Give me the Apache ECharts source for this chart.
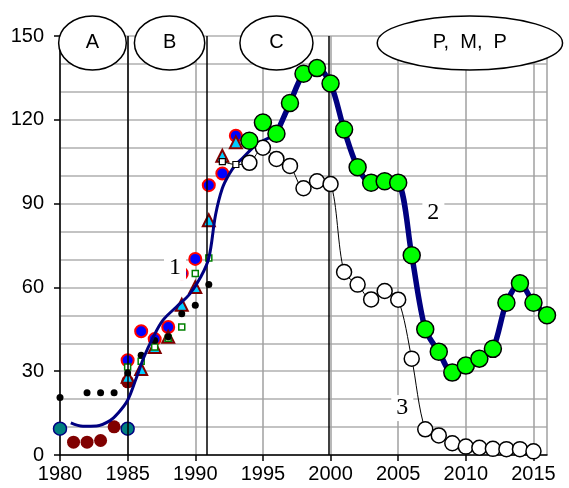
<!DOCTYPE html>
<html><head><meta charset="utf-8">
<script src="https://cdn.jsdelivr.net/npm/echarts@6/dist/echarts.min.js"></script>
<style>html,body{margin:0;padding:0;background:#fff}#c{width:569px;height:488px}</style>
</head><body><div id="c"></div>
<script>
// ---- data ----
const xTickLabels = [1980,1985,1990,1995,2000,2005,2010,2015];
const yTickLabels = [0,30,60,90,120,150];

// series 2: green circles (thick navy line)
const s2Years  = [1994,1995,1996,1997,1998,1999,2000,2001,2002,2003,2004,2005,2006,2007,2008,2009,2010,2011,2012,2013,2014,2015,2016];
const s2Values = [112.5,119,115,126,136.5,138.5,133,116.5,103,97.5,98,97.5,71.5,45,37,29.5,32,34.5,38,54.5,61.5,54.5,50];
const s2LineStartYear = 1996;

// series 3: white circles (thin black line), first two years as small squares
const s3Years  = [1992,1993,1994,1995,1996,1997,1998,1999,2000,2001,2002,2003,2004,2005,2006,2007,2008,2009,2010,2011,2012,2013,2014,2015];
const s3Values = [105,104,104.6,110,106,103.5,95.5,98,97,65.5,61,55.7,58.7,55.6,34.5,9.2,7,4.2,3,2.6,2.2,2.1,2.1,1.3];
const s3SquareYears = [1992,1993];

// curve 1 (smooth fit, thin navy)
const c1Years  = [1980.8,1981.7,1982.7,1983.7,1984.3,1985,1985.6,1986.2,1986.9,1987.6,1988.6,1989.6,1990.4,1991,1991.5,1992,1992.5,1993,1993.5,1994.5,1995.65];
const c1Values = [11.5,10.3,10.4,12.3,15,19.6,27,35,42.3,48.2,53,57.7,63.7,70.5,86,95.5,100.5,104,106.3,111,114];

// scatter groups
const blackDotYears  = [1980,1982,1983,1984,1985,1986,1987,1988,1989,1990,1991];
const blackDotValues = [20.6,22.3,22.3,22.3,29.4,35.7,41,42.3,50.6,53.6,61];

const darkRedYears  = [1981,1982,1983,1984,1985];
const darkRedValues = [4.6,4.6,5.2,10.1,26.2];

const tealYears  = [1980,1985];
const tealValues = [9.4,9.4];

const blueYears  = [1985,1986,1987,1988,1989,1990,1991,1992,1993];
const blueValues = [33.9,44.3,41.5,45.8,65,70.2,96.6,100.8,114.3];

const triYears  = [1985,1986,1987,1988,1989,1990,1991,1992,1993];
const triValues = [28,30.8,38.7,42.3,53.8,60.1,84,107.1,112];

const sqYears  = [1985,1986,1987,1988,1989,1990,1991];
const sqValues = [31.5,33.6,38.7,41.8,45.8,65,70.5];

// vertical period dividers
const dividerYears = [1985,1990.85,1999.9];

// period ellipses: label, centre year, half-width in years
const eraLabels  = ['A','B','C','P,  M,  P'];
const eraCenters = [1982.4,1988.1,1996.0,2010.3];
const eraHalfW   = [2.5,2.6,2.7,6.85];
const eraValue   = 147.5;

// curve number labels
const numLabels = ['1','2','3'];
const numYears  = [1988.5,2007.6,2005.3];
const numValues = [67,86.8,16.8];

// ---- build ----
const zip = (xs, ys) => xs.map((x, i) => [x, ys[i]]);
const s2Pairs = zip(s2Years, s2Values);
const s3Pairs = zip(s3Years, s3Values);

const chart = echarts.init(document.getElementById('c'), null, {renderer: 'canvas'});
const font = 'Liberation Sans, Arial, sans-serif';

const option = {
  animation: false,
  backgroundColor: '#fff',
  grid: {left: 60, right: 22, top: 36, bottom: 33, containLabel: false},
  xAxis: {
    type: 'value', min: 1980, max: 2016, interval: 5,
    axisLine: {show: true, lineStyle: {color: '#000', width: 1.5}},
    axisTick: {show: true, length: 6, lineStyle: {color: '#000', width: 1.5}},
    axisLabel: {color: '#000', fontSize: 20, fontFamily: font, margin: 9, showMaxLabel: false,
      formatter: v => xTickLabels.includes(v) ? String(v) : ''},
    splitLine: {show: true, lineStyle: {color: '#a0a0a0', width: 1.5}}
  },
  yAxis: {
    type: 'value', min: 0, max: 150, interval: 30,
    axisLine: {show: true, lineStyle: {color: '#000', width: 1.5}},
    axisTick: {show: true, length: 6, lineStyle: {color: '#000', width: 1.5}},
    axisLabel: {color: '#000', fontSize: 20, fontFamily: font, margin: 16,
      formatter: v => yTickLabels.includes(v) ? String(v) : ''},
    splitLine: {show: true, lineStyle: {color: '#b0b0b0', width: 1.5}},
    minorTick: {show: false, splitNumber: 3},
    minorSplitLine: {show: true, lineStyle: {color: '#b0b0b0', width: 1.5}}
  },
  series: [
    {
      type: 'line', name: 'dividers', data: [], silent: true,
      markLine: {silent: true, symbol: 'none', label: {show: false},
        lineStyle: {color: '#000', width: 1.5, type: 'solid'},
        data: dividerYears.map(y => ({xAxis: y}))},
      z: 1
    },
    {type: 'scatter', name: 'darkred', data: zip(darkRedYears, darkRedValues),
      symbol: 'circle', symbolSize: 13, itemStyle: {color: '#800000', opacity: 1}, z: 3},
    {type: 'scatter', name: 'teal', data: zip(tealYears, tealValues),
      symbol: 'circle', symbolSize: 13, itemStyle: {color: '#008080', borderColor: '#000080', borderWidth: 1.5, opacity: 1}, z: 3},
    {type: 'scatter', name: 'blue', data: zip(blueYears, blueValues),
      symbol: 'circle', symbolSize: 12, itemStyle: {color: '#0000ff', borderColor: '#ff0000', borderWidth: 2, opacity: 1}, z: 3},
    {type: 'scatter', name: 'tri', data: zip(triYears, triValues),
      symbol: 'triangle', symbolSize: 12, itemStyle: {color: '#00ccff', borderColor: '#800000', borderWidth: 2, opacity: 1}, z: 4},
    {type: 'scatter', name: 'sq', data: zip(sqYears, sqValues),
      symbol: 'rect', symbolSize: 6, itemStyle: {color: '#fff', borderColor: '#008000', borderWidth: 1.5, opacity: 1}, z: 4},
    {type: 'scatter', name: 'black', data: zip(blackDotYears, blackDotValues),
      symbol: 'circle', symbolSize: 7, itemStyle: {color: '#000', opacity: 1}, z: 5},
    {type: 'line', name: 'curve1', data: zip(c1Years, c1Values), smooth: 0.35, showSymbol: false,
      lineStyle: {color: '#000080', width: 3}, z: 6},
    {type: 'line', name: 's3line', data: s3Pairs, smooth: 0.3, showSymbol: false,
      lineStyle: {color: '#000', width: 1}, z: 7},
    {type: 'scatter', name: 's3sq', data: s3Pairs.filter(p => s3SquareYears.includes(p[0])),
      symbol: 'rect', symbolSize: 6, itemStyle: {color: '#fff', borderColor: '#000', borderWidth: 1.2, opacity: 1}, z: 8},
    {type: 'scatter', name: 's3', data: s3Pairs.filter(p => !s3SquareYears.includes(p[0])),
      symbol: 'circle', symbolSize: 15, itemStyle: {color: '#fff', borderColor: '#000', borderWidth: 1.5, opacity: 1}, z: 8},
    {type: 'line', name: 's2line', data: s2Pairs.filter(p => p[0] >= s2LineStartYear), smooth: 0.3, showSymbol: false,
      lineStyle: {color: '#000080', width: 5.5}, z: 9},
    {type: 'scatter', name: 's2', data: s2Pairs,
      symbol: 'circle', symbolSize: 17, itemStyle: {color: '#00ff00', borderColor: '#000', borderWidth: 1.5, opacity: 1}, z: 10}
  ]
};
chart.setOption(option);

// ---- annotations positioned through the axes ----
const px = (x, y) => chart.convertToPixel({gridIndex: 0}, [x, y]);
const elements = [];
eraLabels.forEach((t, i) => {
  const c = px(eraCenters[i], eraValue);
  const e = px(eraCenters[i] + eraHalfW[i], eraValue);
  const rx = e[0] - c[0];
  elements.push({type: 'ellipse', shape: {cx: c[0], cy: c[1], rx: rx, ry: 27},
    style: {fill: '#fff', stroke: '#000', lineWidth: 1.5}, z: 100});
  elements.push({type: 'text', x: c[0], y: c[1],
    style: {text: t, fill: '#000', font: '20px ' + font, textAlign: 'center', textVerticalAlign: 'middle'}, z: 101});
});
numLabels.forEach((t, i) => {
  const p = px(numYears[i], numValues[i]);
  elements.push({type: 'text', x: p[0], y: p[1],
    style: {text: t, fill: '#000', font: '24px Liberation Serif, Times New Roman, serif',
      textAlign: 'center', textVerticalAlign: 'middle', backgroundColor: '#fff', padding: [1, 5]}, z: 90});
});
chart.setOption({graphic: {elements: elements}});
</script>
</body></html>
